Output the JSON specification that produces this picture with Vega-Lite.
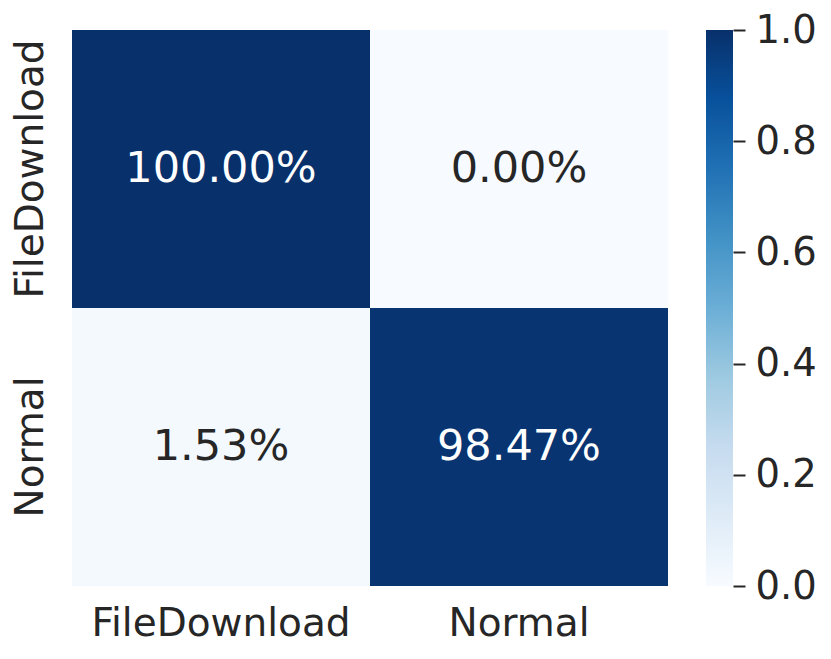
{
  "$schema": "https://vega.github.io/schema/vega-lite/v6.json",
  "background": "white",
  "padding": {"left": 10, "top": 11, "right": 5, "bottom": 5},
  "config": {
    "view": {"stroke": null},
    "font": "DejaVu Sans",
    "axis": {"labelFont": "DejaVu Sans", "labelColor": "#262626", "title": null, "domain": false, "grid": false, "labelLimit": 0}
  },
  "hconcat": [
    {
      "width": 596,
      "height": 556,
      "data": {"values": [
        {"actual": "FileDownload", "predicted": "FileDownload", "value": 1.0},
        {"actual": "FileDownload", "predicted": "Normal", "value": 0.0},
        {"actual": "Normal", "predicted": "FileDownload", "value": 0.0153},
        {"actual": "Normal", "predicted": "Normal", "value": 0.9847}
      ]},
      "encoding": {
        "x": {"field": "predicted", "type": "nominal", "sort": ["FileDownload", "Normal"],
              "scale": {"paddingInner": 0, "paddingOuter": 0},
              "axis": {"labelAngle": 0, "labelFontSize": 39, "ticks": false, "labelPadding": 18, "title": null}},
        "y": {"field": "actual", "type": "nominal", "sort": ["FileDownload", "Normal"],
              "scale": {"paddingInner": 0, "paddingOuter": 0},
              "axis": {"labelAngle": -90, "labelAlign": "center", "labelBaseline": "bottom", "labelFontSize": 39, "ticks": false, "labelPadding": 22, "title": null}}
      },
      "layer": [
        {
          "mark": {"type": "rect"},
          "encoding": {
            "color": {"field": "value", "type": "quantitative",
                      "scale": {"domain": [0, 1], "interpolate": "rgb",
                                "range": ["#f7fbff", "#deebf7", "#c6dbef", "#9ecae1", "#6baed6", "#4292c6", "#2171b5", "#08519c", "#08306b"]},
                      "legend": null}
          }
        },
        {
          "mark": {"type": "text", "fontSize": 43, "font": "DejaVu Sans"},
          "encoding": {
            "text": {"field": "value", "type": "quantitative", "format": ".2%"},
            "color": {"condition": {"test": "datum.value > 0.5", "value": "white"}, "value": "#262626"}
          }
        }
      ]
    },
    {
      "width": 27,
      "height": 556,
      "data": {"values": [{"lo": 0, "hi": 1}]},
      "mark": {"type": "rect", "color": {"gradient": "linear", "x1": 0, "y1": 1, "x2": 0, "y2": 0,
        "stops": [
          {"offset": 0, "color": "#f7fbff"},
          {"offset": 0.125, "color": "#deebf7"},
          {"offset": 0.25, "color": "#c6dbef"},
          {"offset": 0.375, "color": "#9ecae1"},
          {"offset": 0.5, "color": "#6baed6"},
          {"offset": 0.625, "color": "#4292c6"},
          {"offset": 0.75, "color": "#2171b5"},
          {"offset": 0.875, "color": "#08519c"},
          {"offset": 1, "color": "#08306b"}
        ]}},
      "encoding": {
        "y": {"field": "lo", "type": "quantitative", "scale": {"domain": [0, 1], "nice": false, "zero": false},
              "axis": {"orient": "right", "values": [0, 0.2, 0.4, 0.6, 0.8, 1.0], "format": ".1f",
                       "labelFontSize": 38.5, "tickSize": 12, "tickWidth": 2, "tickColor": "#262626",
                       "labelPadding": 10, "title": null, "labelFlush": false}},
        "y2": {"field": "hi"}
      }
    }
  ],
  "spacing": 38
}
